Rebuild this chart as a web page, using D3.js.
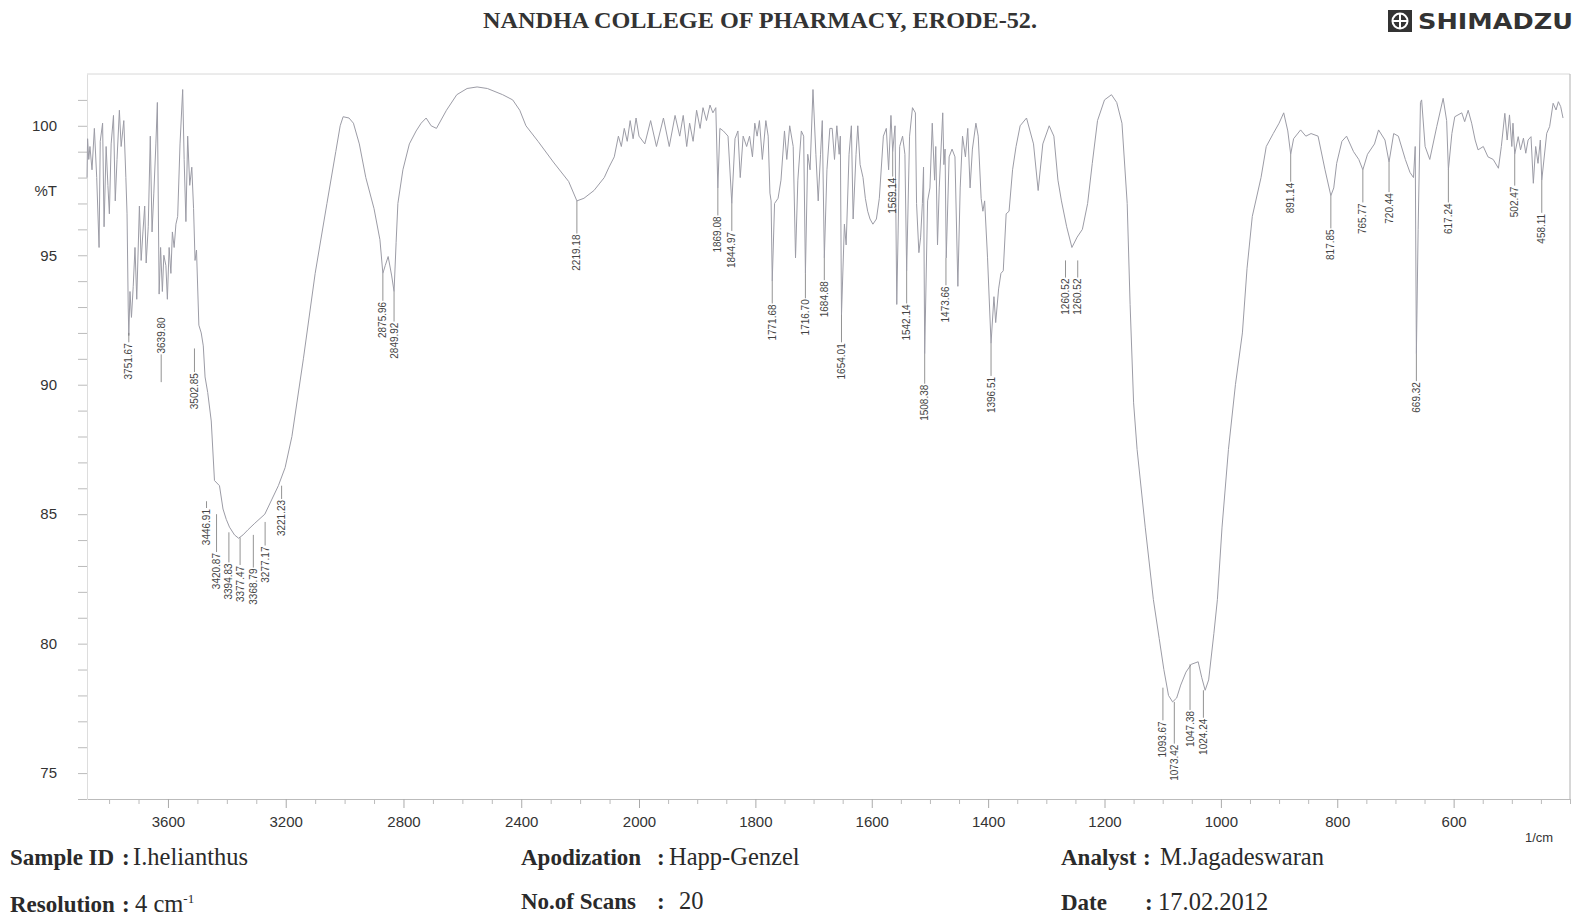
<!DOCTYPE html>
<html>
<head>
<meta charset="utf-8">
<script src="https://cdn.jsdelivr.net/npm/d3@7/dist/d3.min.js"></script>
<style>
  body { margin: 0; background: #fff; }
  svg { display: block; }
</style>
</head>
<body>
<script>
const W = 1579, H = 917;

// spectrum, [wavenumber 1/cm, %T]
const spectrumHigh = [
  [3875, 98.0], [3873, 99.5], [3869, 98.7], [3865, 99.2], [3858, 98.3], [3850, 99.9],
  [3842, 98.0], [3834, 95.3], [3830, 99.4], [3822, 100.1], [3817, 96.1], [3810, 99.2],
  [3804, 97.7], [3799, 96.6], [3793, 99.3], [3785, 100.4], [3779, 97.1], [3773, 98.7],
  [3765, 100.6], [3759, 99.2], [3750, 100.2], [3743, 98.0], [3739, 96.6], [3735, 93.0],
  [3733, 91.9], [3729, 93.6], [3724, 92.6], [3718, 93.8], [3712, 95.3], [3706, 93.3],
  [3697, 96.9], [3691, 94.8], [3685, 95.9], [3679, 96.9], [3674, 94.7], [3667, 96.1],
  [3660, 99.6], [3654, 95.9], [3648, 97.4], [3641, 99.3], [3636, 100.9], [3630, 93.5],
  [3625, 95.3], [3619, 93.6], [3614, 95.0], [3607, 94.6], [3602, 93.3], [3596, 95.3],
  [3590, 94.3], [3585, 95.9], [3579, 95.3], [3573, 96.2], [3567, 96.5], [3559, 99.3],
  [3550, 101.4], [3545, 98.7], [3539, 96.3], [3533, 99.6], [3526, 97.7], [3519, 98.4],
  [3513, 96.8], [3508, 94.8], [3503, 95.2], [3495, 92.3], [3487, 92.0], [3480, 91.5],
  [3474, 90.3], [3465, 89.7], [3453, 88.6], [3442, 86.3], [3425, 86.1], [3413, 85.2],
  [3402, 84.8], [3391, 84.5], [3374, 84.2], [3360, 84.07], [3345, 84.2], [3328, 84.4],
  [3305, 84.65], [3271, 85.0], [3248, 85.55], [3225, 86.1], [3202, 86.8], [3179, 88.0],
  [3140, 91.0], [3100, 94.3], [3060, 97.0], [3030, 99.0], [3015, 100.0], [3005, 100.35],
  [2985, 100.3], [2970, 100.1], [2950, 99.3], [2928, 98.0], [2900, 96.8], [2880, 95.6],
  [2870, 94.3], [2862, 94.6], [2852, 94.95], [2840, 94.2], [2832, 93.6], [2825, 95.5],
  [2819, 97.0], [2802, 98.3], [2780, 99.3], [2757, 99.8], [2740, 100.1], [2723, 100.3],
  [2706, 100.0], [2688, 99.9], [2654, 100.6], [2619, 101.2], [2584, 101.44], [2550, 101.5],
  [2515, 101.44], [2463, 101.2], [2429, 101.0], [2405, 100.6], [2384, 100.0], [2343, 99.4],
  [2291, 98.6], [2239, 97.85], [2211, 97.1], [2187, 97.2], [2153, 97.5], [2118, 98.0],
  [2102, 98.4], [2084, 98.8], [2070, 99.6], [2060, 99.2], [2050, 99.9], [2040, 99.4],
  [2030, 100.2], [2020, 99.5], [2010, 100.3], [2000, 99.6]
];

const spectrumLow = [
  [1990, 99.3], [1980, 100.2], [1970, 99.2], [1958, 100.3], [1948, 99.2], [1938, 100.4],
  [1930, 99.6], [1924, 100.4], [1918, 99.2], [1913, 100.1], [1907, 99.4], [1901, 100.6],
  [1895, 99.9], [1890, 100.7], [1884, 100.2], [1878, 100.8], [1873, 100.5], [1868, 100.7],
  [1864.5, 97.6], [1861, 99.9], [1855, 99.8], [1847, 99.6], [1840.5, 97.0], [1835, 99.5],
  [1830, 99.8], [1826, 98.0], [1821, 99.6], [1815, 99.2], [1810, 99.6], [1805, 98.8],
  [1801, 100.1], [1797, 99.6], [1793, 100.2], [1788, 98.7], [1782, 100.2], [1778, 99.6],
  [1775, 97.4], [1773, 97.1], [1771, 94.0], [1767, 97.0], [1761, 97.2], [1756, 97.9],
  [1750, 99.8], [1746, 98.7], [1741, 100.0], [1735, 99.2], [1731, 94.9], [1727, 97.9],
  [1721, 99.8], [1717, 99.6], [1714, 94.3], [1710, 98.9], [1706, 98.3], [1701, 101.4],
  [1696, 98.9], [1692, 97.1], [1688, 98.9], [1685, 100.2], [1681.5, 94.9], [1677, 98.3],
  [1672, 99.9], [1668, 99.9], [1664, 98.7], [1660, 100.0], [1656, 98.9], [1654, 99.6],
  [1652, 92.7], [1647, 96.2], [1644, 95.4], [1639, 98.9], [1635, 100.0], [1632, 96.4],
  [1627, 98.9], [1624, 100.0], [1620, 98.5], [1615, 98.0], [1611, 97.2], [1607, 96.7],
  [1603, 96.4], [1598, 96.2], [1592, 96.4], [1587, 97.2], [1580, 99.6], [1575, 99.9],
  [1571, 98.3], [1567, 100.4], [1564, 99.0], [1560, 100.0], [1557, 93.1], [1552, 99.2],
  [1547, 99.6], [1543, 98.9], [1540, 94.4], [1535, 99.6], [1530, 100.7], [1525, 100.5],
  [1523, 97.0], [1519, 95.1], [1516, 95.7], [1513, 97.0], [1511, 98.4], [1509, 91.2],
  [1504, 97.1], [1500, 97.6], [1496, 100.1], [1492, 97.9], [1490, 99.2], [1487, 95.4],
  [1484, 97.6], [1478, 100.5], [1476, 98.5], [1474, 99.1], [1472, 94.9], [1467, 98.8],
  [1462, 99.1], [1457, 98.8], [1452, 93.8], [1448, 97.6], [1444, 99.6], [1439, 98.8],
  [1435, 99.9], [1431, 97.6], [1427, 99.1], [1421, 100.1], [1417, 99.6], [1412, 97.2],
  [1409, 96.7], [1406, 97.1], [1401, 94.9], [1395, 91.6], [1390, 93.4], [1387, 92.4],
  [1382, 93.7], [1378, 94.3], [1374, 94.4], [1369, 96.6], [1364, 96.7], [1358, 98.3],
  [1352, 99.2], [1345, 100.0], [1334, 100.3], [1322, 99.3], [1314, 97.5], [1306, 99.3],
  [1295, 100.0], [1287, 99.6], [1280, 97.9], [1274, 97.1], [1265, 96.1], [1256, 95.3],
  [1247, 95.7], [1238, 96.0], [1229, 97.0], [1221, 98.55], [1212, 100.2], [1200, 101.0],
  [1188, 101.2], [1179, 100.9], [1170, 100.1], [1161, 97.0], [1156, 93.1], [1150, 89.3],
  [1144, 87.5], [1130, 84.5], [1116, 81.7], [1106, 80.2], [1098, 79.0], [1090, 78.0],
  [1083, 77.75], [1076, 77.9], [1069, 78.4], [1060, 78.9], [1051, 79.2], [1039, 79.3],
  [1033, 78.7], [1027, 78.2], [1021, 78.6], [1012, 80.4], [1006, 81.7], [998, 84.5],
  [987, 87.5], [975, 90.0], [963, 92.0], [955, 94.5], [946, 96.5], [931, 98.0],
  [922, 99.2], [910, 99.7], [900, 100.1], [892, 100.5], [885, 99.8], [880, 98.9],
  [875, 99.5], [863, 99.84], [854, 99.6], [845, 99.7], [833, 99.6], [821, 98.3],
  [811, 97.3], [806, 97.6], [801, 98.55], [792, 99.4], [784, 99.6], [772, 99.0],
  [763, 98.7], [756, 98.3], [748, 98.9], [736, 99.3], [729, 99.84], [718, 99.45],
  [711, 98.6], [703, 99.7], [695, 99.6], [683, 98.7], [675, 98.2], [669, 98.0],
  [666, 99.2], [664, 91.2], [661, 96.0], [657, 100.9], [655, 101.0], [649, 99.2],
  [641, 98.7], [629, 99.97], [618, 101.06], [612, 100.2], [609, 98.3], [603, 99.7],
  [598, 100.35], [586, 100.5], [581, 100.16], [575, 100.6], [569, 100.1], [563, 99.45],
  [558, 99.07], [549, 99.2], [541, 98.8], [532, 98.7], [523, 98.36], [518, 99.2],
  [512, 100.48], [508, 99.45], [504, 100.42], [500, 99.2], [498, 100.1], [495, 98.9],
  [489, 99.58], [485, 99.07], [480, 99.52], [476, 98.94], [472, 99.45], [467, 99.58],
  [463, 97.78], [459, 99.2], [455, 98.55], [451, 99.45], [448.5, 97.9], [440, 99.71],
  [435, 99.97], [429, 100.87], [424, 100.61], [420, 100.93], [416, 100.74], [412, 100.3]
];

// peak table: value, where the printed label sits, leader start, top of label text
const peakWn = [3751.67, 3639.80, 3502.85, 3446.91, 3420.87, 3394.83, 3377.47, 3368.79,
  3277.17, 3221.23, 2875.96, 2849.92, 2219.18, 1869.08, 1844.97, 1771.68, 1716.70, 1684.88,
  1654.01, 1569.14, 1542.14, 1508.38, 1473.66, 1396.51, 1260.52, 1260.52, 1093.67, 1073.42,
  1047.38, 1024.24, 891.14, 817.85, 765.77, 720.44, 669.32, 617.24, 502.47, 458.11];
const peakLabelPos = [3733, 3623, 3510, 3469, 3435, 3393, 3355, 3310,
  3270, 3214, 2870, 2832, 2211, 1864.5, 1840.5, 1771, 1714, 1681.5,
  1652, 1564, 1540, 1509, 1472.5, 1395, 1267, 1246, 1099.6, 1080,
  1053, 1030, 880, 811, 756, 711, 664, 609, 495, 448.5];
const peakT = [92.0, 90.1, 91.4, 85.5, 85.0, 84.3, 84.1, 84.2,
  84.7, 86.1, 94.3, 93.6, 97.1, 97.6, 97.0, 94.0, 94.3, 94.9,
  92.7, 99.0, 94.4, 91.2, 94.9, 91.6, 94.8, 94.8, 78.3, 77.75,
  79.2, 78.2, 98.9, 97.3, 98.3, 98.6, 91.2, 98.3, 98.9, 97.9];
const peakLabelT = [91.6, 92.6, 90.45, 85.2, 83.5, 83.1, 83.0, 82.9,
  83.75, 85.55, 93.2, 92.4, 95.8, 96.5, 95.9, 93.1, 93.3, 94.0,
  91.6, 98.0, 93.1, 90.0, 93.8, 90.3, 94.1, 94.1, 77.0, 76.1,
  77.4, 77.1, 97.8, 96.0, 97.0, 97.4, 90.1, 97.0, 97.65, 96.6];

const xTicks = [3600, 3200, 2800, 2400, 2000, 1800, 1600, 1400, 1200, 1000, 800, 600];
const yTicks = [75, 80, 85, 90, 95, 100];

const title = 'NANDHA COLLEGE OF PHARMACY, ERODE-52.';
const footLabels = ['Sample ID', 'Resolution', 'Apodization', 'No.of Scans', 'Analyst', 'Date'];
const footValues = ['I.helianthus', '4 cm', 'Happ-Genzel', '20', 'M.Jagadeswaran', '17.02.2012'];

const sans = 'Liberation Sans, Arial, sans-serif';
const serif = 'Liberation Serif, Times New Roman, serif';

const svg = d3.select('body').append('svg')
  .attr('width', W)
  .attr('height', H)
  .attr('viewBox', [0, 0, W, H]);

const x = d3.scaleLinear().domain([3875, 2000, 400]).range([87, 639, 1570]);
const y = d3.scaleLinear().domain([74, 102]).range([799, 74]);

// header
svg.append('text')
  .attr('x', 760).attr('y', 28)
  .attr('text-anchor', 'middle')
  .attr('font-family', serif).attr('font-weight', 'bold').attr('font-size', 23)
  .attr('textLength', 554).attr('lengthAdjust', 'spacingAndGlyphs')
  .attr('fill', '#333')
  .text(title);

const logo = svg.append('g');
logo.append('rect').attr('x', 1388).attr('y', 10).attr('width', 24).attr('height', 22).attr('fill', '#333');
logo.append('circle').attr('cx', 1400).attr('cy', 21).attr('r', 7.5)
  .attr('fill', 'none').attr('stroke', '#fff').attr('stroke-width', 2);
logo.append('path').attr('d', 'M1393,21H1407M1400,14V28').attr('stroke', '#fff').attr('stroke-width', 2);
logo.append('text')
  .attr('x', 1418).attr('y', 29)
  .attr('font-family', 'DejaVu Sans, sans-serif').attr('font-weight', 'bold').attr('font-size', 21)
  .attr('textLength', 155).attr('lengthAdjust', 'spacingAndGlyphs')
  .attr('fill', '#333')
  .text('SHIMADZU');

// frame
svg.append('line').attr('x1', 87).attr('x2', 1570).attr('y1', 74).attr('y2', 74)
  .attr('stroke', '#d8d8d8');
svg.append('line').attr('x1', 1570).attr('x2', 1570).attr('y1', 74).attr('y2', 799)
  .attr('stroke', '#b0b0b0');

// x axis
const minorX = d3.range(3800, 2000, -100).concat(d3.range(1950, 399, -50))
  .filter(v => !xTicks.includes(v));

const xMinor = svg.append('g').attr('transform', 'translate(0,799)')
  .call(d3.axisBottom(x).tickValues(minorX).tickSize(5).tickSizeOuter(0).tickFormat(''));
xMinor.select('.domain').attr('stroke', '#bbb');
xMinor.selectAll('.tick line').attr('stroke', '#bbb');

const xMajor = svg.append('g').attr('transform', 'translate(0,799)')
  .call(d3.axisBottom(x).tickValues(xTicks).tickSize(9).tickPadding(8).tickFormat(d3.format('d')));
xMajor.select('.domain').remove();
xMajor.selectAll('.tick line').attr('stroke', '#aaa');
xMajor.selectAll('.tick text')
  .attr('font-family', sans).attr('font-size', 15).attr('fill', '#333');

svg.append('text')
  .attr('x', 1539).attr('y', 842)
  .attr('text-anchor', 'middle')
  .attr('font-family', sans).attr('font-size', 13).attr('fill', '#333')
  .text('1/cm');

// y axis
const yMinor = svg.append('g').attr('transform', 'translate(87,0)')
  .call(d3.axisLeft(y).tickValues(d3.range(74, 102)).tickSize(9).tickSizeOuter(0).tickFormat(''));
yMinor.select('.domain').attr('stroke', '#ddd');
yMinor.selectAll('.tick line').attr('stroke', '#bbb');

const yLabels = svg.append('g').attr('transform', 'translate(87,0)')
  .call(d3.axisLeft(y).tickValues(yTicks).tickSize(0).tickPadding(30));
yLabels.select('.domain').remove();
yLabels.selectAll('.tick text')
  .attr('font-family', sans).attr('font-size', 15).attr('fill', '#333');

svg.append('text')
  .attr('x', 57).attr('y', y(97.5)).attr('dy', '0.35em')
  .attr('text-anchor', 'end')
  .attr('font-family', sans).attr('font-size', 15).attr('fill', '#333')
  .text('%T');

// spectrum
const spectrum = spectrumHigh.concat(spectrumLow);
const line = d3.line().x(d => x(d[0])).y(d => y(d[1]));

svg.append('path')
  .datum(spectrum)
  .attr('fill', 'none')
  .attr('stroke', '#9c9ca6')
  .attr('stroke-width', 1)
  .attr('stroke-linejoin', 'round')
  .attr('d', line);

// peak labels
const fmt = d3.format('.2f');
const labelLen = 36;

const peaks = svg.append('g')
  .selectAll('g')
  .data(peakWn.map((wn, i) => ({wn, pos: peakLabelPos[i], t: peakT[i], lt: peakLabelT[i]})))
  .join('g');

peaks.append('line')
  .attr('x1', d => x(d.pos)).attr('x2', d => x(d.pos))
  .attr('y1', d => y(d.t) < y(d.lt) ? y(d.t) : y(d.lt) + labelLen + 1)
  .attr('y2', d => y(d.t) < y(d.lt) ? y(d.lt) - 1 : y(d.t))
  .attr('stroke', '#777')
  .attr('stroke-width', 0.8);

peaks.append('text')
  .attr('transform', d => `translate(${x(d.pos)},${y(d.lt)}) rotate(-90)`)
  .attr('dy', '0.35em')
  .attr('text-anchor', 'end')
  .attr('font-family', sans).attr('font-size', 10).attr('fill', '#444')
  .text(d => fmt(d.wn));

// footer
const footPos = [
  {x: 10, c: 122, v: 133, y: 865},
  {x: 10, c: 122, v: 135, y: 912},
  {x: 521, c: 657, v: 669, y: 865},
  {x: 521, c: 657, v: 679, y: 909},
  {x: 1061, c: 1143, v: 1160, y: 865},
  {x: 1061, c: 1145, v: 1158, y: 910}
];

const foot = svg.append('g')
  .attr('font-family', serif).attr('fill', '#2a2a2a')
  .selectAll('g')
  .data(footLabels.map((l, i) => ({label: l, value: footValues[i], p: footPos[i]})))
  .join('g');

foot.append('text')
  .attr('x', d => d.p.x).attr('y', d => d.p.y)
  .attr('font-weight', 'bold').attr('font-size', 23)
  .text(d => d.label);

foot.append('text')
  .attr('x', d => d.p.c).attr('y', d => d.p.y)
  .attr('font-weight', 'bold').attr('font-size', 23)
  .text(':');

const val = foot.append('text')
  .attr('x', d => d.p.v).attr('y', d => d.p.y)
  .attr('font-size', 24.5)
  .text(d => d.value);

val.filter(d => d.label === 'Resolution')
  .append('tspan')
  .attr('dy', -9).attr('font-size', 13)
  .text('-1');
</script>
</body>
</html>
